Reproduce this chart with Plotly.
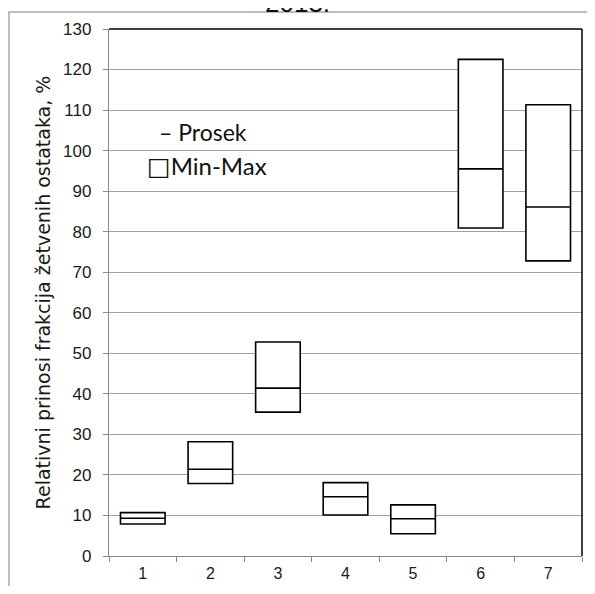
import plotly.graph_objects as go

categories = ["1", "2", "3", "4", "5", "6", "7"]
min_vals = [7.9, 17.9, 35.5, 10.1, 5.5, 80.9, 72.8]
mean_vals = [9.3, 21.4, 41.4, 14.6, 9.2, 95.5, 86.1]
max_vals = [10.7, 28.2, 52.8, 18.1, 12.6, 122.5, 111.3]
y_ticks = list(range(0, 131, 10))

OFF = 8  # page body margin (on every side)
W, H = 595 - 2 * OFF, 594 - 2 * OFF
L, T = 109 - OFF, 29 - OFF
R = W - (582 - OFF)
B = H - (556 - OFF)
pw, ph = W - L - R, H - T - B

def px(sx):
    return (sx - OFF - L) / pw

def py(sy):
    return (H - B - (sy - OFF)) / ph

fig = go.Figure()
fig.add_trace(go.Box(
    x=categories,
    q1=min_vals, median=mean_vals, q3=max_vals,
    lowerfence=min_vals, upperfence=max_vals,
    width=0.66, whiskerwidth=0,
    fillcolor="white",
    line=dict(color="black", width=1.6),
    boxpoints=False, showlegend=False, hoverinfo="skip",
))

font_tick = "Liberation Sans Narrow, Arial Narrow, Liberation Sans, sans-serif"
font_ytitle = "DejaVu Sans, sans-serif"
fig.update_layout(
    width=W, height=H,
    margin=dict(l=L, r=R, t=T, b=B, autoexpand=False),
    paper_bgcolor="white", plot_bgcolor="white",
    showlegend=False,
    font=dict(family=font_tick, color="#1a1a1a", size=16),
    xaxis=dict(
        type="category", tickson="boundaries", automargin=False,
        ticks="outside", ticklen=5, tickcolor="#888", tickwidth=1,
        showline=True, linecolor="#888", linewidth=1.3,
        showgrid=False, zeroline=False,
        tickfont=dict(size=16, family=font_tick),
        ticklabelstandoff=3,
        range=[-0.5, 6.5],
    ),
    yaxis=dict(
        range=[0, 130], tickvals=y_ticks, automargin=False,
        ticks="outside", ticklen=5, tickcolor="#888", tickwidth=1,
        showline=True, linecolor="#888", linewidth=1.3,
        showgrid=True, gridcolor="#a0a0a0", gridwidth=1.3,
        zeroline=False,
        tickfont=dict(size=17, family=font_tick),
        ticklabelstandoff=8,
        title=dict(text="Relativni prinosi frakcija žetvenih ostataka, %",
                   font=dict(size=19, family=font_ytitle, color="#1a1a1a"), standoff=7),
    ),
)

# plot area border (top and right)
fig.add_shape(type="line", xref="paper", yref="paper", x0=0, x1=1, y0=1, y1=1,
              line=dict(color="black", width=1.5))
fig.add_shape(type="line", xref="paper", yref="paper", x0=1, x1=1, y0=0, y1=1,
              line=dict(color="black", width=1.5))
# outer chart border (cropped)
fig.add_shape(type="rect", xref="paper", yref="paper",
              x0=px(OFF + 1), x1=px(640), y0=py(640), y1=py(12),
              line=dict(color="#a8a8a8", width=1.5))

# title (cropped at top in reference)
fig.add_annotation(text="2013.", xref="paper", yref="paper",
                   x=px(297), y=py(3), xanchor="center", yanchor="middle",
                   showarrow=False, font=dict(size=26, family=font_tick, color="#111"))

# legend
leg_font = "Lato, Open Sans, sans-serif"
fig.add_annotation(text="\u2013 Prosek", xref="paper", yref="paper",
                   x=px(157), y=py(132), xanchor="left", yanchor="middle",
                   showarrow=False, font=dict(size=23, family=leg_font, color="#111"))
fig.add_annotation(text="<span style='font-size:25px;font-family:DejaVu Sans'>\u25a1</span>Min-Max",
                   xref="paper", yref="paper",
                   x=px(145), y=py(166), xanchor="left", yanchor="middle",
                   showarrow=False, font=dict(size=24, family=leg_font, color="#111"))

fig.write_html("out.html")
